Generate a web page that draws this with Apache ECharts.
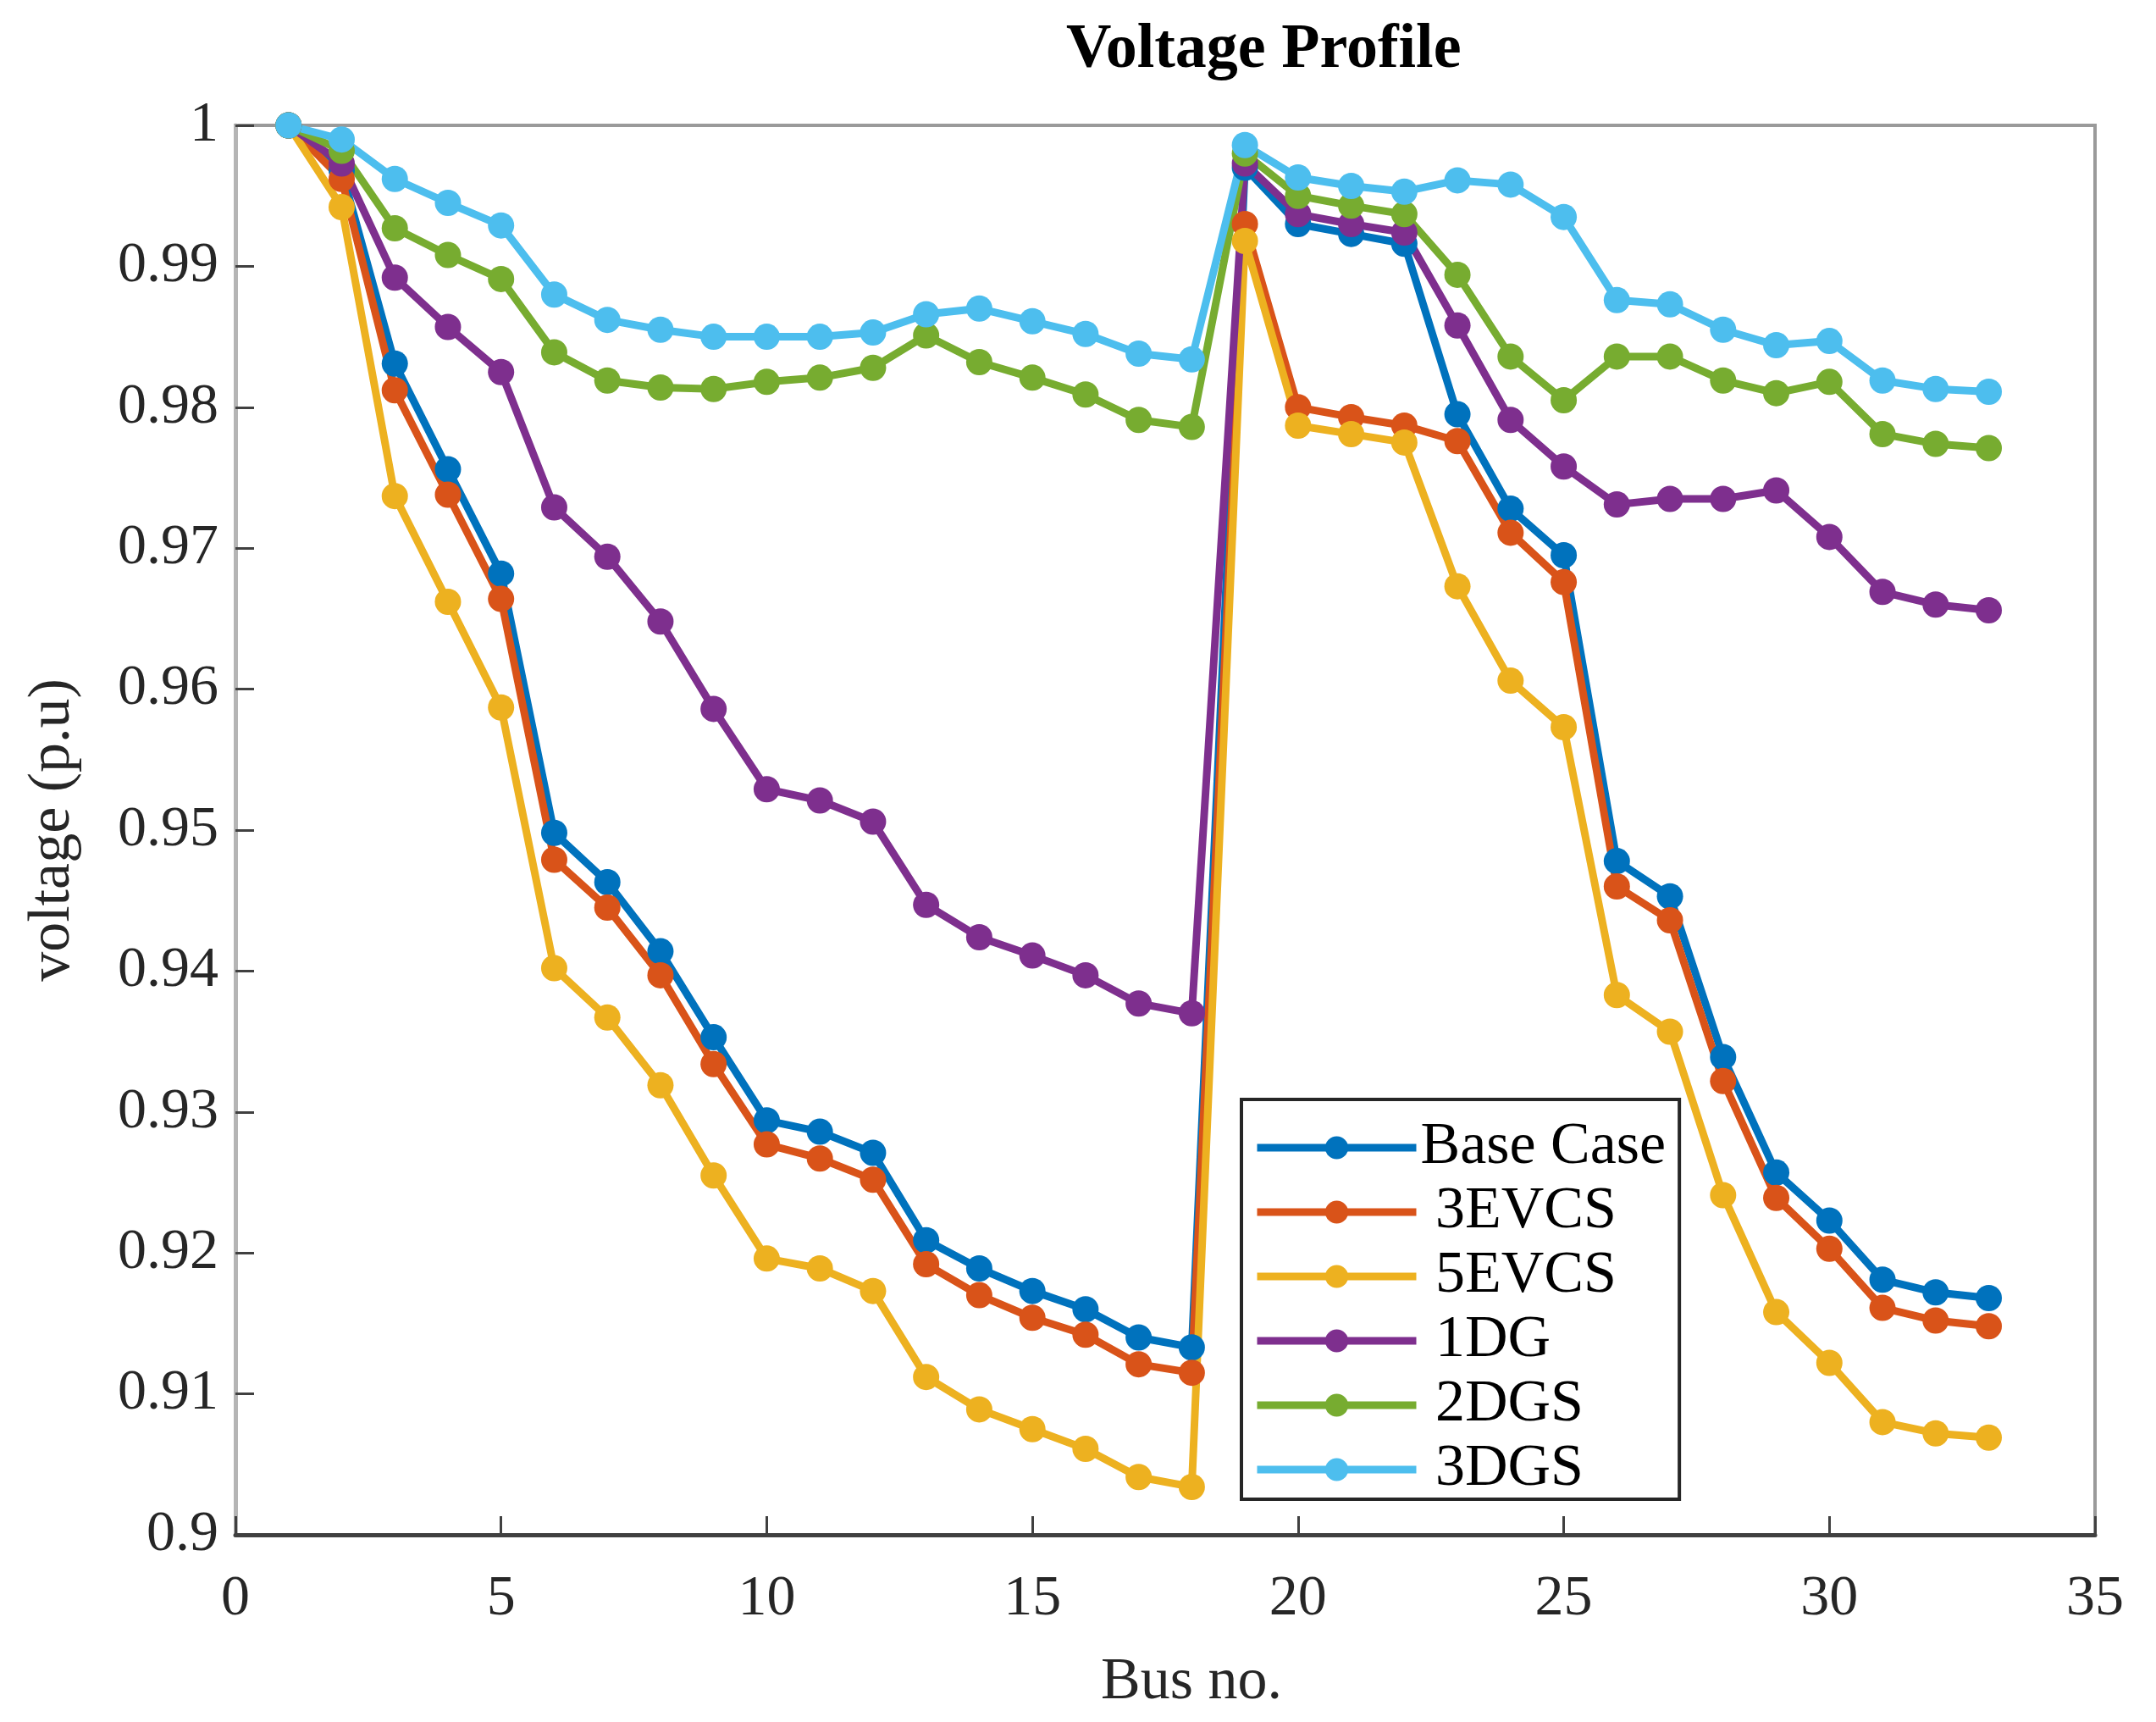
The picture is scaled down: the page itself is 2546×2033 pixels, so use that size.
<!DOCTYPE html>
<html>
<head>
<meta charset="utf-8">
<title>Voltage Profile</title>
<script src="https://cdn.jsdelivr.net/npm/echarts@6/dist/echarts.min.js"></script>
<style>
  html, body { margin: 0; padding: 0; background: #fff; }
  #chart { width: 2546px; height: 2033px; }
</style>
</head>
<body>
<div id="chart"></div>
<script>
// bus numbers 1..33
var buses = [1,2,3,4,5,6,7,8,9,10,11,12,13,14,15,16,17,18,19,20,21,22,23,24,25,26,27,28,29,30,31,32,33];

var baseCase = [1.0000,0.9968,0.9831,0.9756,0.9682,0.9498,0.9463,0.9414,0.9353,0.9294,0.9286,0.9271,0.9209,0.9189,0.9173,0.9160,0.9140,0.9133,
                0.9970,0.9930,0.9923,0.9916,0.9795,0.9728,0.9695,0.9478,0.9453,0.9339,0.9257,0.9223,0.9181,0.9172,0.9168];
var evcs3 = [1.0000,0.9962,0.9812,0.9738,0.9664,0.9479,0.9445,0.9397,0.9334,0.9277,0.9267,0.9252,0.9192,0.9170,0.9154,0.9142,0.9121,0.9115,
             0.9930,0.9800,0.9793,0.9787,0.9776,0.9711,0.9676,0.9460,0.9436,0.9322,0.9239,0.9203,0.9161,0.9152,0.9148];
var evcs5 = [1.0000,0.9942,0.9737,0.9662,0.9587,0.9402,0.9367,0.9319,0.9255,0.9196,0.9189,0.9173,0.9112,0.9089,0.9075,0.9061,0.9041,0.9034,
             0.9918,0.9787,0.9781,0.9775,0.9673,0.9606,0.9573,0.9383,0.9357,0.9241,0.9158,0.9122,0.9080,0.9072,0.9069];
var dg1 = [1.0000,0.9973,0.9892,0.9857,0.9825,0.9729,0.9694,0.9648,0.9586,0.9529,0.9521,0.9506,0.9447,0.9424,0.9411,0.9397,0.9377,0.9370,
           0.9973,0.9937,0.9930,0.9924,0.9858,0.9791,0.9758,0.9731,0.9735,0.9735,0.9741,0.9708,0.9669,0.9660,0.9656];
var dgs2 = [1.0000,0.9982,0.9927,0.9908,0.9891,0.9839,0.9819,0.9814,0.9813,0.9818,0.9821,0.9828,0.9851,0.9832,0.9821,0.9809,0.9791,0.9786,
            0.9980,0.9950,0.9943,0.9937,0.9894,0.9836,0.9805,0.9836,0.9836,0.9819,0.9810,0.9818,0.9781,0.9774,0.9771];
var dgs3 = [1.0000,0.9990,0.9962,0.9945,0.9929,0.9880,0.9862,0.9855,0.9850,0.9850,0.9850,0.9853,0.9866,0.9870,0.9861,0.9852,0.9838,0.9834,
            0.9986,0.9963,0.9957,0.9953,0.9961,0.9958,0.9935,0.9876,0.9873,0.9855,0.9844,0.9847,0.9819,0.9813,0.9811];

var seriesNames = ['Base Case', '3EVCS', '5EVCS', '1DG', '2DGS', '3DGS'];
var seriesData = [baseCase, evcs3, evcs5, dg1, dgs2, dgs3];
var colors = ['#0072BD', '#D95319', '#EDB120', '#7E2F8E', '#77AC30', '#4DBEEE'];

var serif = 'Liberation Serif';

function pairs(ys) {
  return buses.map(function (b, i) { return [b, ys[i]]; });
}

var series = seriesNames.map(function (name, i) {
  return {
    name: name,
    type: 'line',
    data: pairs(seriesData[i]),
    symbol: 'circle',
    symbolSize: 31,
    showSymbol: true,
    lineStyle: { width: 9, color: colors[i] },
    itemStyle: { color: colors[i] },
    emphasis: { disabled: true },
    animation: false
  };
});

var option = {
  backgroundColor: '#ffffff',
  color: colors,
  title: {
    text: 'Voltage Profile',
    left: 1254,
    top: 18,
    textStyle: { fontFamily: serif, fontSize: 74, fontWeight: 'bold', color: '#000' }
  },
  legend: {
    orient: 'vertical',
    left: 1466,
    top: 1298,
    itemWidth: 188,
    itemHeight: 34,
    itemGap: 6,
    padding: [22, 16, 0, 14],
    backgroundColor: '#fff',
    borderColor: '#262626',
    borderWidth: 4,
    lineStyle: { width: 9 },
    formatter: function (name) { return name === 'Base Case' ? name : ' ' + name; },
    textStyle: { fontFamily: serif, fontSize: 70, color: '#000', lineHeight: 60 },
    data: seriesNames
  },
  grid: {
    left: 278,
    right: 72,
    top: 148,
    bottom: 221,
    show: true,
    borderColor: '#9a9a9a',
    borderWidth: 4,
    backgroundColor: '#fff'
  },
  xAxis: {
    type: 'value',
    min: 0,
    max: 35,
    interval: 5,
    name: 'Bus no.',
    nameLocation: 'middle',
    nameGap: 140,
    nameTextStyle: { fontFamily: serif, fontSize: 70, color: '#262626', padding: [0, 0, 0, 62] },
    axisLine: { show: true, lineStyle: { color: '#404040', width: 5 } },
    axisTick: { show: true, inside: true, length: 22, lineStyle: { color: '#404040', width: 3 } },
    axisLabel: { fontFamily: serif, fontSize: 68, color: '#262626', margin: 42 },
    splitLine: { show: false }
  },
  yAxis: {
    type: 'value',
    min: 0.9,
    max: 1,
    interval: 0.01,
    name: 'voltage (p.u)',
    nameLocation: 'middle',
    nameGap: 180,
    nameTextStyle: { fontFamily: serif, fontSize: 70, color: '#262626' },
    axisLine: { show: true, lineStyle: { color: '#b5b5b5', width: 5 } },
    axisTick: { show: true, inside: true, length: 22, lineStyle: { color: '#404040', width: 3 } },
    axisLabel: {
      fontFamily: serif, fontSize: 68, color: '#262626', margin: 20,
      formatter: function (v) { return String(+v.toFixed(2)); }
    },
    splitLine: { show: false }
  },
  series: series
};

var myChart = echarts.init(document.getElementById('chart'), null, { renderer: 'canvas' });
myChart.setOption(option, true);
</script>
</body>
</html>
